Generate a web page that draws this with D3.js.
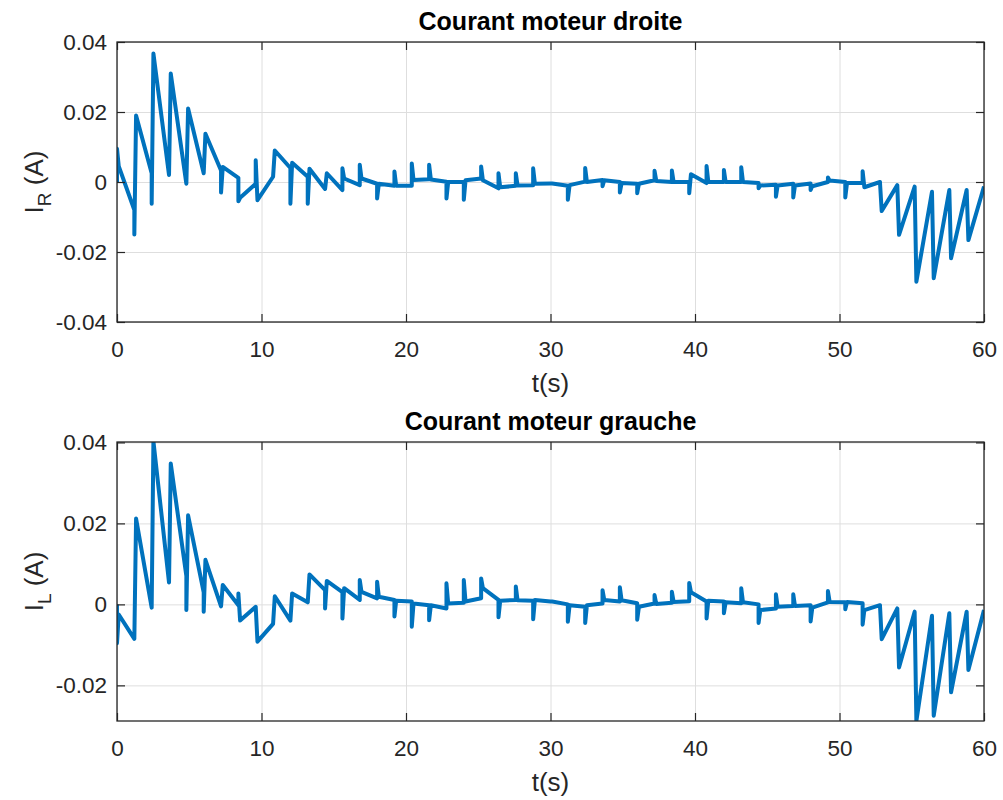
<!doctype html>
<html>
<head>
  <script src="https://d3js.org/d3.v7.min.js"></script>
</head>
<style>
  body {
    margin: 0;
    background: #fff;
  }

  svg text {
    font-family: "Liberation Sans", Arial, sans-serif;
    fill: #262626;
  }

  .grid line {
    stroke: #dedede;
    stroke-width: 1;
  }

  .grid path, .ticks path {
    display: none;
  }

  .ticks line {
    stroke: #262626;
    stroke-width: 1.2;
  }
</style>
<body>
<svg id="chart"></svg>

<script>
  // event instants (s) : each event = optional spike, jump to a start value, then decay to an end value
  const eventTimes = [0, 1.2, 2.4, 3.6, 4.8, 6.0, 7.2, 8.4, 9.6, 10.8,
    12.0, 13.2, 14.4, 15.6, 16.8, 18.0, 19.2, 20.4, 21.6, 22.8,
    24.0, 25.2, 26.4, 27.6, 28.8, 30.0, 31.2, 32.4, 33.6, 34.8,
    36.0, 37.2, 38.4, 39.6, 40.8, 42.0, 43.2, 44.4, 45.6, 46.8,
    48.0, 49.2, 50.4, 51.6, 52.8, 54.0, 55.2, 56.4, 57.6, 58.8];

  // right motor current I_R (A)
  const rightInitial = 0;
  const rightSpike = [0.0095, -0.015, -0.0062, null, null, null, -0.003, -0.0055, 0.0062, null,
    -0.0062, -0.0062, null, 0.0039, 0.0049, -0.0047, 0.003, 0.0053, 0.0049, -0.0047,
    -0.0051, 0.0044, 0.0025, 0.0025, 0.0039, null, -0.0051, 0.004, -0.0012, -0.003,
    -0.0032, 0.0032, 0.0033, -0.0032, 0.0046, 0.0034, 0.0042, -0.0018, -0.0042, -0.0044,
    -0.0023, 0.0013, -0.0044, 0.0031, null, null, null, null, null, null];
  const rightStart = [0.0045, 0.019, 0.0367, 0.031, 0.021, 0.0138, 0.0043, -0.0045, -0.0052, 0.009,
    0.0055, 0.0038, 0.0025, 0.001, 0.001, -0.0005, -0.0011, 0.0006, 0.0007, 0,
    0.0005, 0.0005, -0.0015, -0.001, -0.0005, -0.0004, -0.0009, 0, 0.0005, -0.0003,
    -0.0005, 0.0003, 0, 0.0022, 0, 0, 0, -0.001, -0.001, -0.001,
    -0.0012, 0.0004, -0.0003, -0.0015, -0.0083, -0.0151, -0.0285, -0.0275, -0.0218, -0.0166];
  const rightEnd = [-0.008, 0.0025, 0.002, -0.0005, 0.0025, 0.0033, 0.0012, -0.0005, 0.0015, 0.004,
    0.0015, -0.002, -0.0023, -0.0009, -0.0005, -0.0011, -0.0011, 0.0008, 0.0001, 0,
    0.001, -0.0018, -0.0011, -0.0009, -0.0004, -0.0011, 0.0001, 0.0006, 0, -0.0005,
    0.0005, 0, 0, -0.0003, 0, 0, -0.0003, -0.0008, -0.0005, -0.0004,
    0, 0, -0.0002, 0, -0.0009, -0.0013, -0.0028, -0.0023, -0.0023, -0.0013];

  // left motor current I_L (A)
  const leftInitial = 0;
  const leftSpike = [-0.0096, null, null, null, -0.0014, -0.0018, null, 0.0027, null, null,
    null, null, -0.001, -0.0035, 0.006, 0.0056, -0.003, -0.0055, -0.0039, 0.0052,
    0.006, 0.0064, -0.0032, 0.0044, -0.0037, null, -0.0043, -0.0046, 0.0035, 0.0042,
    -0.0038, 0.0023, 0.0031, 0.0053, -0.0035, -0.0022, 0.004, -0.0046, 0.0025, 0.0025,
    -0.0042, 0.0033, -0.0012, -0.005, null, null, null, null, null, null];
  const leftStart = [-0.0025, 0.0212, 0.0403, 0.0348, 0.022, 0.011, 0.0048, -0.004, -0.0092, 0.002,
    0.0027, 0.0074, 0.0058, 0.004, 0.0031, 0.0019, 0.0009, 0.0002, -0.0002, 0.0002,
    0.0007, 0.004, 0.0009, 0.001, 0.0011, 0.0007, -0.0002, -0.0002, 0.0011, 0.001,
    -0.0006, 0.0001, 0.0006, 0.003, 0.0009, 0.0005, 0.0005, -0.0014, -0.0006, -0.0004,
    -0.0008, 0.0006, 0.0006, -0.0014, -0.0086, -0.0156, -0.0288, -0.0275, -0.0217, -0.0162];
  const leftEnd = [-0.0085, -0.0008, 0.0054, 0.007, 0.003, -0.0005, -0.0002, -0.0006, -0.0048, -0.004,
    0.0005, 0.0035, 0.003, 0.0011, 0.0015, 0.0011, 0.0007, -0.0002, -0.001, 0.0004,
    0.0015, 0.0011, 0.0011, 0.0009, 0.0007, 0, -0.0006, 0.0002, 0.0007, 0.0003,
    0.0002, 0.0004, 0.0008, 0.0007, 0.0007, 0.0003, 0, -0.001, -0.0004, -0.0002,
    0.0005, 0.0005, 0.0003, -0.0002, -0.001, -0.0018, -0.0028, -0.0022, -0.0018, -0.0014];

  const xTicks = [0, 10, 20, 30, 40, 50, 60];
  const rightYTicks = [-0.04, -0.02, 0, 0.02, 0.04];
  const leftYTicks = [-0.02, 0, 0.02, 0.04];

  const width = 1003, height = 800;
  const plotLeft = 117, plotRight = 984;
  const jumpLag = 0.12;
  const lineColor = "#0072bd";

  const svg = d3.select("#chart")
    .attr("width", width)
    .attr("height", height);

  function buildPoints(initial, spikes, starts, ends) {
    const pts = [[0, initial]];
    eventTimes.forEach(function (t, k) {
      if (spikes[k] !== null) pts.push([t, spikes[k]]);
      pts.push([t + jumpLag, starts[k]]);
      const tNext = k + 1 < eventTimes.length ? eventTimes[k + 1] : 60;
      pts.push([tNext, ends[k]]);
    });
    return pts;
  }

  function yFormat(d) {
    return d === 0 ? "0" : d.toFixed(2);
  }

  function drawPanel(opts) {
    const top = opts.top, bottom = opts.bottom;
    const x = d3.scaleLinear().domain([0, 60]).range([plotLeft, plotRight]);
    const y = d3.scaleLinear().domain(opts.yDomain).range([bottom, top]);
    const w = plotRight - plotLeft, h = bottom - top;

    const g = svg.append("g");

    // grid
    g.append("g")
      .attr("class", "grid")
      .attr("transform", `translate(0, ${bottom})`)
      .call(d3.axisBottom(x).tickValues(xTicks).tickSize(-h).tickFormat(""));
    g.append("g")
      .attr("class", "grid")
      .attr("transform", `translate(${plotLeft}, 0)`)
      .call(d3.axisLeft(y).tickValues(opts.yTicks).tickSize(-w).tickFormat(""));

    // data line
    g.append("clipPath")
      .attr("id", opts.id)
      .append("rect")
      .attr("x", plotLeft)
      .attr("y", top)
      .attr("width", w)
      .attr("height", h);

    const line = d3.line()
      .x(function (d) { return x(d[0]); })
      .y(function (d) { return y(d[1]); });

    g.append("path")
      .datum(opts.points)
      .attr("clip-path", `url(#${opts.id})`)
      .attr("fill", "none")
      .attr("stroke", lineColor)
      .attr("stroke-width", 4)
      .attr("stroke-linejoin", "round")
      .attr("d", line);

    // ticks (inside) on all four sides
    const bottomAxis = g.append("g")
      .attr("class", "ticks")
      .attr("transform", `translate(0, ${bottom})`)
      .call(d3.axisBottom(x).tickValues(xTicks).tickSize(-8).tickPadding(19).tickFormat(d3.format("d")));
    g.append("g")
      .attr("class", "ticks")
      .attr("transform", `translate(0, ${top})`)
      .call(d3.axisTop(x).tickValues(xTicks).tickSize(-8).tickFormat(""));
    const leftAxis = g.append("g")
      .attr("class", "ticks")
      .attr("transform", `translate(${plotLeft}, 0)`)
      .call(d3.axisLeft(y).tickValues(opts.yTicks).tickSize(-8).tickPadding(10).tickFormat(yFormat));
    g.append("g")
      .attr("class", "ticks")
      .attr("transform", `translate(${plotRight}, 0)`)
      .call(d3.axisRight(y).tickValues(opts.yTicks).tickSize(-8).tickFormat(""));

    bottomAxis.selectAll("text").attr("font-size", 22.5).attr("fill", "#262626");
    leftAxis.selectAll("text").attr("font-size", 22.5).attr("fill", "#262626");

    // box
    g.append("rect")
      .attr("x", plotLeft)
      .attr("y", top)
      .attr("width", w)
      .attr("height", h)
      .attr("fill", "none")
      .attr("stroke", "#262626")
      .attr("stroke-width", 1.3);

    // title
    g.append("text")
      .attr("x", (plotLeft + plotRight) / 2)
      .attr("y", top - 12)
      .attr("text-anchor", "middle")
      .attr("font-size", 25)
      .attr("font-weight", "bold")
      .style("fill", "#000")
      .text(opts.title);

    // x label
    g.append("text")
      .attr("x", (plotLeft + plotRight) / 2)
      .attr("y", bottom + 70)
      .attr("text-anchor", "middle")
      .attr("font-size", 26)
      .text("t(s)");

    // y label with subscript
    const yl = g.append("text")
      .attr("transform", `translate(43, ${(top + bottom) / 2}) rotate(-90)`)
      .attr("text-anchor", "middle")
      .attr("font-size", 26);
    yl.append("tspan").text("I");
    yl.append("tspan").attr("dy", 8).attr("font-size", 19).text(opts.sub);
    yl.append("tspan").attr("dy", -8).text(" (A)");
  }

  drawPanel({
    id: "clipR",
    top: 42,
    bottom: 322,
    yDomain: [-0.04, 0.04],
    yTicks: rightYTicks,
    title: "Courant moteur droite",
    sub: "R",
    points: buildPoints(rightInitial, rightSpike, rightStart, rightEnd)
  });

  drawPanel({
    id: "clipL",
    top: 442,
    bottom: 721,
    yDomain: [-0.0288, 0.0401],
    yTicks: leftYTicks,
    title: "Courant moteur grauche",
    sub: "L",
    points: buildPoints(leftInitial, leftSpike, leftStart, leftEnd)
  });
</script>
</body>
</html>
